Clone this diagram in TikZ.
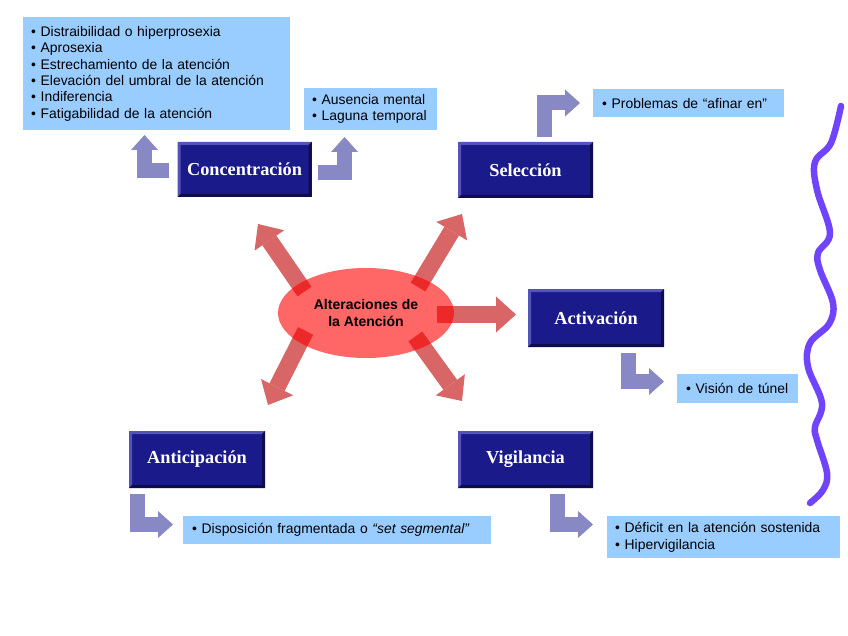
\documentclass[tikz,border=0pt]{standalone}
\usepackage{fontspec}
\setmainfont{Liberation Sans}
\newfontfamily\titlefont{Liberation Serif}
\usetikzlibrary{arrows.meta,calc,shapes.geometric}
\definecolor{navy}{RGB}{26,26,138}
\definecolor{navylt}{RGB}{84,84,184}
\definecolor{navydk}{RGB}{12,12,78}
\definecolor{lblue}{RGB}{153,204,255}
\definecolor{lav}{RGB}{136,136,196}
\definecolor{ellred}{RGB}{255,102,102}
\definecolor{arrred}{RGB}{216,102,102}
\definecolor{ovred}{RGB}{236,40,40}
\definecolor{squigc}{RGB}{112,68,250}
\begin{document}
\begin{tikzpicture}[x=1pt,y=-1pt,
  titlebox/.style={rectangle, fill=navy, inner sep=0pt, text=white,
    font=\titlefont\bfseries\fontsize{18.3}{20}\selectfont,
    path picture={
      \fill[navylt] (path picture bounding box.south west) -- (path picture bounding box.north west)
        -- (path picture bounding box.north east) -- ([xshift=-3pt,yshift=-3pt]path picture bounding box.north east)
        -- ([xshift=3pt,yshift=-3pt]path picture bounding box.north west) -- ([xshift=3pt,yshift=3pt]path picture bounding box.south west) -- cycle;
      \fill[navydk] (path picture bounding box.south west) -- (path picture bounding box.south east)
        -- (path picture bounding box.north east) -- ([xshift=-3pt,yshift=-3pt]path picture bounding box.north east)
        -- ([xshift=-3pt,yshift=3pt]path picture bounding box.south east) -- ([xshift=3pt,yshift=3pt]path picture bounding box.south west) -- cycle;
    }},
  listbox/.style={rectangle, fill=lblue, anchor=north west, align=left, inner xsep=8pt, inner ysep=0pt,
    font=\fontsize{13.9}{16.4}\selectfont},
  parrow/.style={line width=15pt, draw=lav, line join=miter, -{Triangle[length=15pt,width=27pt,line width=0pt]}},
  rarrow/.style={line width=17pt, line join=miter, -{Triangle[length=20pt,width=36pt,line width=0pt]}},
]
\useasboundingbox (0,0) rectangle (848,636);
\fill[white] (0,0) rectangle (848,636);

% title boxes
\node[titlebox, minimum width=134pt, minimum height=55pt] (conc) at (244.5,169.5) {Concentración};
\node[titlebox, minimum width=135pt, minimum height=56pt] (sel) at (525.5,170) {Selección};
\node[titlebox, minimum width=136pt, minimum height=58pt] (act) at (596,318) {Activación};
\node[titlebox, minimum width=136pt, minimum height=57pt] (ant) at (197,459.5) {Anticipación};
\node[titlebox, minimum width=135pt, minimum height=57pt] (vig) at (525.5,459.5) {Vigilancia};

% list boxes
\node[listbox, text width=251pt, minimum height=113pt] (l1) at (23,17)
  {• Distraibilidad o hiperprosexia\\• Aprosexia\\• Estrechamiento de la atención\\• Elevación del umbral de la atención\\• Indiferencia\\• Fatigabilidad de la atención};
\node[listbox, text width=117pt, minimum height=42pt] (l2) at (304,88)
  {• Ausencia mental\\• Laguna temporal};
\node[listbox, text width=173pt, minimum height=28pt, inner xsep=9pt] (l3) at (593,89)
  {• Problemas de “afinar en”};
\node[listbox, text width=103pt, minimum height=29pt, inner xsep=9pt] (l4) at (677,374)
  {• Visión de túnel};
\node[listbox, text width=290pt, minimum height=28pt, inner xsep=9pt] (l5) at (183,516)
  {• Disposición fragmentada o \textit{“set segmental”}};
\node[listbox, text width=217pt, minimum height=42pt] (l6) at (607,516)
  {• Déficit en la atención sostenida\\• Hipervigilancia};

% purple bent arrows
\coordinate (t1) at (144.5,135);
\coordinate (t2) at (344.5,137);
\coordinate (t3) at (580,103);
\coordinate (t4) at (664,381.5);
\coordinate (t5) at (173,524.5);
\coordinate (t6) at (593,524.5);
\draw[parrow] ([xshift=-8pt,yshift=-1pt]conc.west) -| (t1);
\draw[parrow] ([xshift=6pt,yshift=-3pt]conc.east) -| (t2);
\draw[parrow] ([xshift=19pt,yshift=5pt]sel.north) |- (t3);
\draw[parrow] ([xshift=32.5pt,yshift=-6pt]act.south) |- (t4);
\draw[parrow] ([xshift=-59.5pt,yshift=-6pt]ant.south) |- (t5);
\draw[parrow] ([xshift=32pt,yshift=-6pt]vig.south) |- (t6);

% red arrows
\coordinate (s1) at (304.5,291.6);  \coordinate (e1) at (258,224);
\coordinate (s2) at (418,287);      \coordinate (e2) at (462,214);
\coordinate (s3) at (437,314.5);    \coordinate (e3) at (516,314.5);
\coordinate (s4) at (305.6,330.9);  \coordinate (e4) at (268,405);
\coordinate (s5) at (415.3,336.5);  \coordinate (e5) at (462,401);
\foreach \i in {1,...,5} \draw[rarrow, draw=arrred, fill=arrred] (s\i) -- (e\i);
\node[ellipse, fill=ellred, minimum width=176pt, minimum height=90pt, inner sep=0pt] (core) at (366,313) {};
\begin{scope}
  \clip (366,313) ellipse [x radius=88pt, y radius=45pt];
  \foreach \i in {1,...,5} \draw[rarrow, draw=ovred, fill=ovred] (s\i) -- (e\i);
\end{scope}
\node[align=center, font=\bfseries\fontsize{14}{17}\selectfont] (lbl) at (core.center) {Alteraciones de\\la Atención};

% squiggle
\draw[squigc, line width=6.5pt, line cap=round, line join=round] plot[smooth, tension=0.6] coordinates
  {(841,106) (831,143) (815,162) (817,190) (830,233) (818,253) (820,270) (833,303) (829,324) (810,343) (808,367) (822,403) (815,427) (817,440) (827,473) (823,490) (810,503)};
\end{tikzpicture}
\end{document}
